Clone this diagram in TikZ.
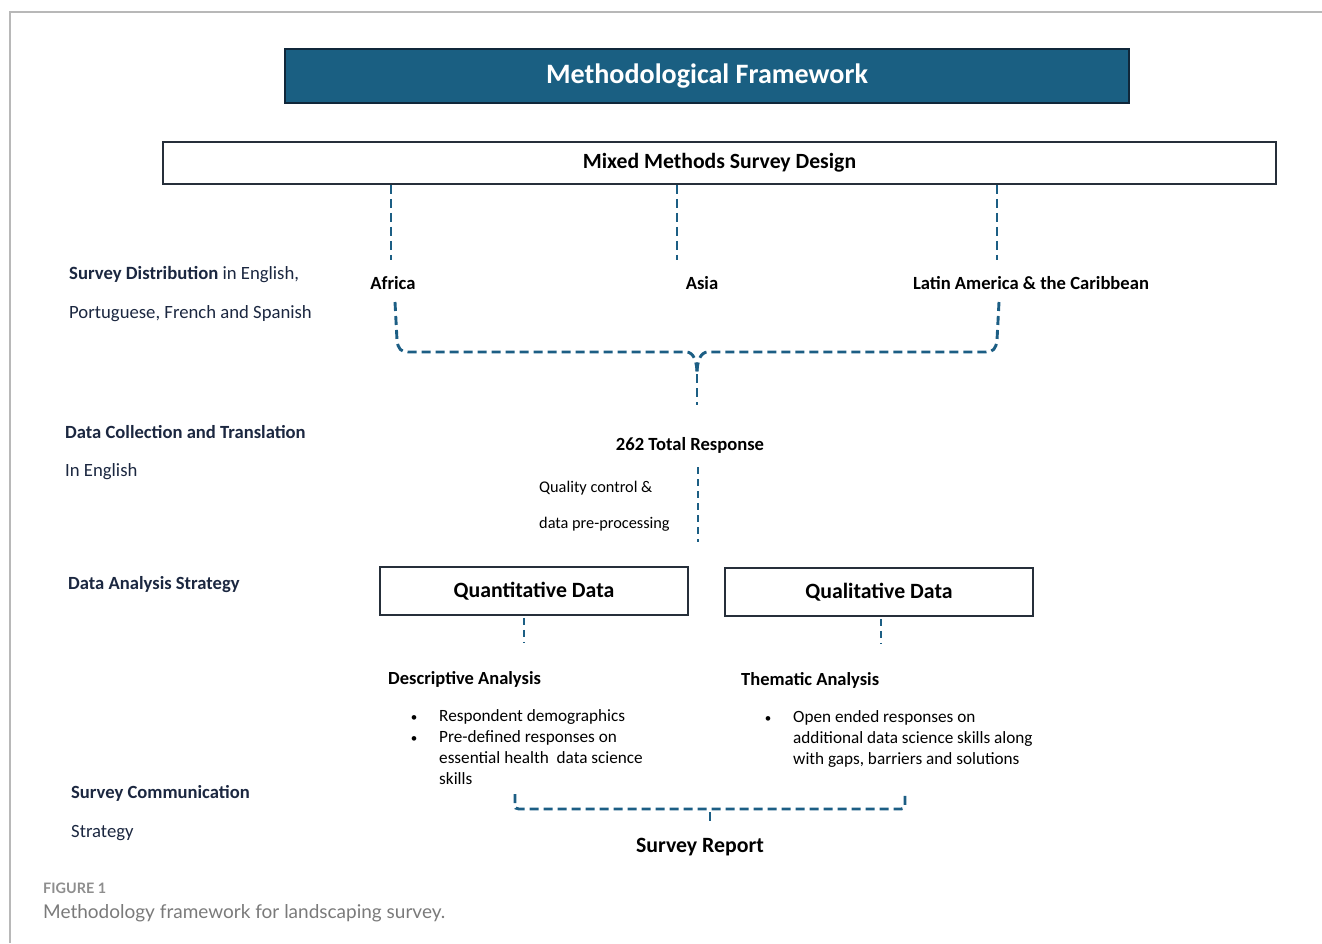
\documentclass[tikz,border=0pt]{standalone}
\usepackage{fontspec}
\setmainfont{Carlito}
\newfontfamily\capfont{Lato}
\usetikzlibrary{calc}
\definecolor{navy}{HTML}{1A5F82}
\definecolor{navyedge}{HTML}{10273A}
\definecolor{boxedge}{HTML}{262F3A}
\definecolor{dashblue}{HTML}{1C5E84}
\definecolor{sidetext}{HTML}{1B2740}
\definecolor{framegray}{HTML}{B8B8B8}
\definecolor{capgray}{HTML}{7A7A7A}
\tikzset{
  titlebox/.style={draw=navyedge, line width=1.6pt, fill=navy, text=white,
    font=\fontsize{28.1}{33}\selectfont\bfseries, minimum width=844pt, minimum height=54pt, inner sep=0pt},
  mainbox/.style={draw=boxedge, line width=1.8pt, fill=white,
    font=\fontsize{21.7}{26}\selectfont\bfseries, minimum height=42pt, inner sep=0pt},
  databox/.style={draw=boxedge, line width=1.8pt, fill=white,
    font=\fontsize{21.8}{26}\selectfont\bfseries, minimum width=308pt, minimum height=48pt, inner sep=0pt},
  side/.style={anchor=base west, inner sep=0pt, text=sidetext, font=\fontsize{18.7}{22}\selectfont},
  sidebold/.style={side, font=\fontsize{18.6}{22}\selectfont\bfseries},
  region/.style={anchor=base, inner sep=0pt, font=\fontsize{18.6}{22}\selectfont\bfseries},
  heading/.style={anchor=base west, inner sep=0pt, font=\fontsize{18.5}{22}\selectfont\bfseries},
  small/.style={anchor=base west, inner sep=0pt, font=\fontsize{16.3}{20}\selectfont},
  item/.style={anchor=base west, inner sep=0pt, font=\fontsize{17.2}{21}\selectfont},
  dot/.style={anchor=base, inner sep=0pt, font=\fontsize{13}{21}\selectfont},
  conn/.style={draw=dashblue, line width=2.9pt, dash pattern=on 9pt off 5pt},
  shortconn/.style={draw=dashblue, line width=2.9pt, dash pattern=on 7pt off 5pt},
}
\begin{document}
\begin{tikzpicture}[x=1pt, y=-1pt]
\useasboundingbox (0,0) rectangle (1322,943);
% figure frame
\draw[framegray, line width=1.5pt] (10,943) -- (10,12) -- (1322,12);

% header boxes
\node[titlebox] (title) at (707,76) {Methodological Framework};
\node[mainbox, minimum width=1113pt] (mixed) at (719.5,163) {Mixed Methods Survey Design};

% regions
\node[region] (africa) at (393,289) {Africa};
\node[region] (asia) at (702,289) {Asia};
\node[region] (latam) at (1031,289) {Latin America \& the Caribbean};

\coordinate (afTop) at (391,260);
\coordinate (asTop) at (677,260);
\coordinate (laTop) at (997,260);
\draw[conn] (mixed.south -| afTop) -- (afTop);
\draw[conn] (mixed.south -| asTop) -- (asTop);
\draw[conn] (mixed.south -| laTop) -- (laTop);

% brace joining the regions
\coordinate (afLow) at (395,302);
\coordinate (laLow) at (999,302);
\coordinate (join) at (697,374);
\coordinate (stem) at (697,405);
\draw[conn] (afLow) -- (397,340) .. controls (398,349) and (401,352) .. (408,352)
  -- (686,352) .. controls (694,352) and (697,362) .. (join);
\draw[conn] (laLow) -- (997,340) .. controls (996,349) and (993,352) .. (986,352)
  -- (708,352) .. controls (700,352) and (697,362) .. (join);
\draw[conn] (join) -- (stem);

% responses
\node[region] (total) at (690,450) {262 Total Response};
\node[small] (qc1) at (539,492) {Quality control \&};
\node[small] (qc2) at (539,528) {data pre-processing};
\coordinate (qcTop) at (698,467);
\coordinate (qcBot) at (698,542);
\draw[shortconn] (qcTop) -- (qcBot);

% data boxes
\node[databox] (quant) at (534,591) {Quantitative Data};
\node[databox] (qual) at (879,592) {Qualitative Data};
\coordinate (quEnd) at (524,642);
\coordinate (qlEnd) at (881,644);
\draw[shortconn] (quant.south -| quEnd) ++(0,2) -- (quEnd);
\draw[shortconn] (qual.south -| qlEnd) ++(0,2) -- (qlEnd);

% analyses
\node[heading] (desc) at (388,684) {Descriptive Analysis};
\node[heading] (them) at (741,685) {Thematic Analysis};

\node[dot] (b1) at (414,721) {•};
\node[item] (d1) at (439,721) {Respondent demographics};
\node[dot] (b2) at (414,742) {•};
\node[item] (d2) at (439,742) {Pre-defined responses on};
\node[item] (d3) at (439,763) {essential health\ \ data science};
\node[item] (d4) at (439,784) {skills};

\node[dot] (b3) at (768,722) {•};
\node[item] (t1) at (793,722) {Open ended responses on};
\node[item] (t2) at (793,743) {additional data science skills along};
\node[item] (t3) at (793,764) {with gaps, barriers and solutions};

% bottom brace
\coordinate (lbr) at (515,794);
\coordinate (rbr) at (905,794);
\coordinate (mid) at (710,812);
\coordinate (midEnd) at (710,822);
\draw[conn] (lbr) -- (515,805) .. controls (515,808) and (516,809) .. (519,809)
  -- (901,809) .. controls (904,809) and (905,808) .. (905,805) -- (rbr);
\draw[conn] (mid) -- (midEnd);
\node[anchor=base, inner sep=0pt, font=\fontsize{21.8}{26}\selectfont\bfseries] (report) at (700,852) {Survey Report};

% row labels
\node[side] (l1) at (69,279) {\textbf{Survey Distribution} in English,};
\node[side] (l1b) at (69,318) {Portuguese, French and Spanish};
\node[sidebold] (l2) at (65,438) {Data Collection and Translation};
\node[side] (l2b) at (65,476) {In English};
\node[sidebold] (l3) at (68,589) {Data Analysis Strategy};
\node[sidebold] (l4) at (71,798) {Survey Communication};
\node[side] (l4b) at (71,837) {Strategy};

% caption
\node[anchor=base west, inner sep=0pt, text=capgray!85, font=\capfont\fontsize{14.4}{17}\selectfont\bfseries] (fig) at (43,893) {FIGURE 1};
\node[anchor=base west, inner sep=0pt, text=capgray, font=\capfont\fontsize{19}{23}\selectfont] (cap) at (43,918) {Methodology framework for landscaping survey.};
\end{tikzpicture}
\end{document}
